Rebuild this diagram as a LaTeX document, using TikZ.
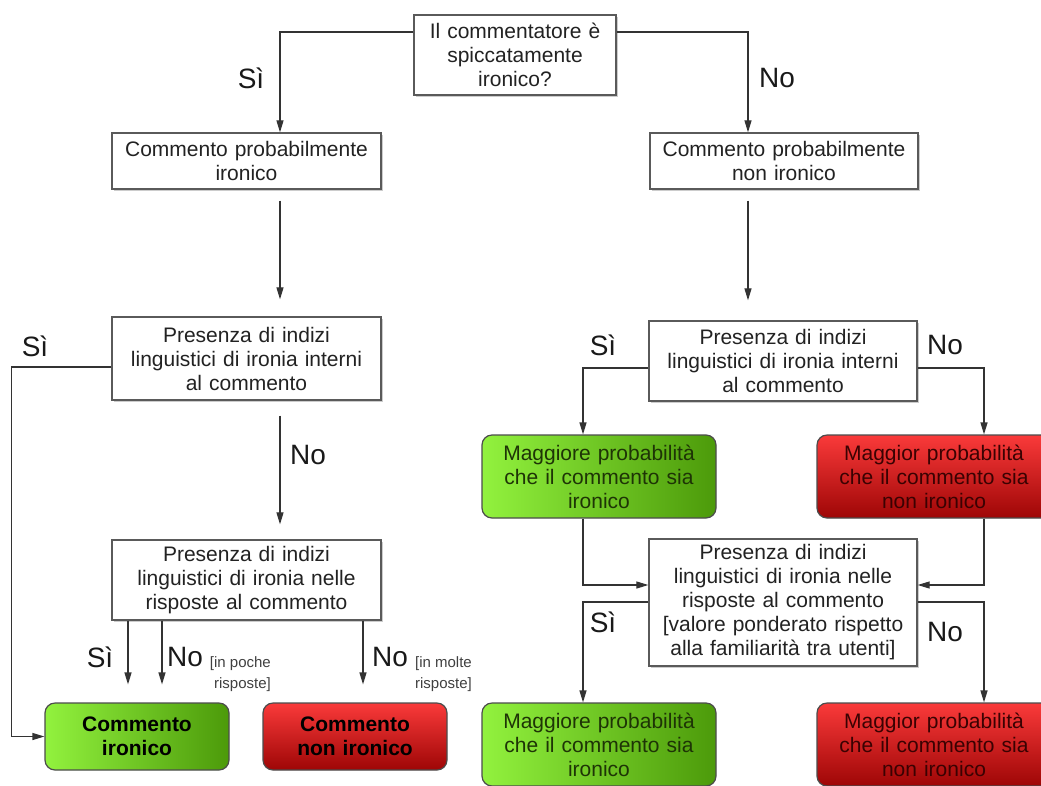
\documentclass[tikz,border=0pt]{standalone}
\usepackage{fontspec}
\setmainfont{Liberation Sans}
\usetikzlibrary{arrows.meta,calc,shadows}
\definecolor{lineC}{HTML}{333333}
\definecolor{boxC}{HTML}{5A5A5A}
\definecolor{txtC}{HTML}{222222}
\definecolor{gL}{HTML}{92F23E}
\definecolor{gR}{HTML}{4C9A0A}
\definecolor{rT}{HTML}{FA3A3A}
\definecolor{rB}{HTML}{9E0606}
\definecolor{gTxt}{HTML}{1E3406}
\definecolor{rTxt}{HTML}{3A0202}
\tikzset{
  base/.style 2 args={text width=#1pt, minimum height=#2pt, inner sep=0pt, align=center,
    font=\fontsize{21}{24}\selectfont},
  wbox/.style 2 args={base={#1}{#2}, draw=boxC, line width=1.3pt, fill=white, text=txtC,
    general shadow={shadow xshift=1.5pt, shadow yshift=-1.5pt, fill=black!20}},
  gbox/.style 2 args={base={#1}{#2}, draw=black!70, line width=1.2pt, rounded corners=10pt,
    left color=gL, right color=gR, text=gTxt},
  rbox/.style 2 args={base={#1}{#2}, draw=black!70, line width=1.2pt, rounded corners=10pt,
    top color=rT, bottom color=rB, text=rTxt},
  arr/.style={draw=lineC, line width=1.2pt, -{Triangle[length=12pt,width=7pt]}},
  lab/.style={font=\fontsize{28}{30}\selectfont, text=black!90, inner sep=0pt},
  tiny/.style={font=\fontsize{15}{21}\selectfont, text=black!75, inner sep=0pt, align=right, anchor=east}
}
\begin{document}
\begin{tikzpicture}[x=1pt,y=-1pt]
\useasboundingbox (0,0) rectangle (1041,785);
\clip (0,0) rectangle (1041,785);
\fill[white] (0,0) rectangle (1041,785);

% nodes
\node[wbox={202}{80}] (top) at (515,55) {Il commentatore è\\spiccatamente\\ironico?};
\node[wbox={269}{56}] (cpi) at (246.5,161) {Commento probabilmente\\ironico};
\node[wbox={268}{56}] (cpn) at (784,161) {Commento probabilmente\\non ironico};
\node[wbox={269}{83}] (pl1) at (246.5,358.5) {Presenza di indizi\\linguistici di ironia interni\\al commento};
\node[wbox={268}{80}] (pr1) at (783,361) {Presenza di indizi\\linguistici di ironia interni\\al commento};
\node[wbox={269}{80}] (pl2) at (246.5,580) {Presenza di indizi\\linguistici di ironia nelle\\risposte al commento};
\node[wbox={268}{127}] (pr2) at (783,602.5) {Presenza di indizi\\linguistici di ironia nelle\\risposte al commento\\{[}valore ponderato rispetto\\alla familiarità tra utenti]};

\node[gbox={184}{67}, text=black, font=\fontsize{21}{24}\selectfont\bfseries] (gl) at (137,736.5) {Commento\\ironico};
\node[rbox={184}{67}, text=black, font=\fontsize{21}{24}\selectfont\bfseries] (rl) at (355,736.5) {Commento\\non ironico};
\node[gbox={234}{83}] (gr1) at (599,476.5) {Maggiore probabilità\\che il commento sia\\ironico};
\node[rbox={234}{83}] (rr1) at (934,476.5) {Maggior probabilità\\che il commento sia\\non ironico};
\node[gbox={234}{83}] (gr2) at (599,744.5) {Maggiore probabilità\\che il commento sia\\ironico};
\node[rbox={234}{83}] (rr2) at (934,744.5) {Maggior probabilità\\che il commento sia\\non ironico};

% connectors
\draw[arr] (top.west |- 0,32) -| (cpi.north -| 280,0);
\draw[arr] (top.east |- 0,32) -| (cpn.north -| 748,0);
\draw[arr, shorten <=11pt, shorten >=17pt] (cpi.south -| 280,0) -- (pl1.north -| 280,0);
\draw[arr, shorten <=11pt, shorten >=20pt] (cpn.south -| 748,0) -- (pr1.north -| 748,0);
\draw[arr] (pl1.west |- 0,367) -| ($(gl.west)+(-33,0)$) -- (gl.west);
\draw[arr, shorten <=15pt, shorten >=15pt] (pl1.south -| 280,0) -- (pl2.north -| 280,0);
\draw[arr, shorten >=18pt] (pl2.south -| 128,0) -- (gl.north -| 128,0);
\draw[arr, shorten >=18pt] (pl2.south -| 162,0) -- (gl.north -| 162,0);
\draw[arr, shorten >=18pt] (pl2.south -| 363,0) -- (rl.north -| 363,0);

\draw[arr] (pr1.west |- 0,368) -| (gr1.north -| 583,0);
\draw[arr] (pr1.east |- 0,368) -| (rr1.north -| 984,0);
\draw[arr] (gr1.south -| 583,0) |- (pr2.west |- 0,585);
\draw[arr] (rr1.south -| 984,0) |- (pr2.east |- 0,585);
\draw[arr] (pr2.west |- 0,602) -| (gr2.north -| 583,0);
\draw[arr] (pr2.east |- 0,602) -| (rr2.north -| 984,0);

% labels
\node[lab] (l1) at (251,78) {Sì};
\node[lab] (l2) at (777,78) {No};
\node[lab] (l3) at (35,346) {Sì};
\node[lab] (l4) at (308,455) {No};
\node[lab] (l5) at (100,657) {Sì};
\node[lab] (l6) at (185,657) {No};
\node[tiny] (s1) at (271,674) {{[}in poche\\risposte]};
\node[lab] (l7) at (390,657) {No};
\node[tiny] (s2) at (472,674) {{[}in molte\\risposte]};
\node[lab] (l8) at (603,345) {Sì};
\node[lab] (l9) at (945,345) {No};
\node[lab] (l10) at (603,622) {Sì};
\node[lab] (l11) at (945,632) {No};
\end{tikzpicture}
\end{document}
